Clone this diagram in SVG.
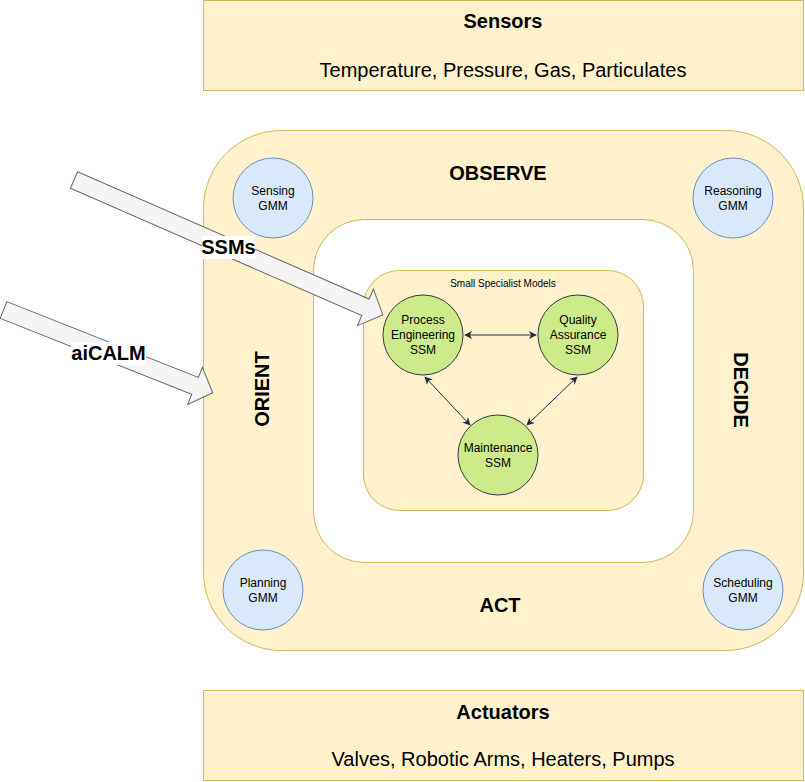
<svg xmlns="http://www.w3.org/2000/svg" width="805" height="782" viewBox="0 0 805 782">
<style>
.y{fill:#fff2cc;stroke:#d6b656;stroke-width:1}
.w{fill:#ffffff;stroke:#d6b656;stroke-width:1}
.b{fill:#dae8fc;stroke:#6c8ebf;stroke-width:1}
.g{fill:#cdeb8b;stroke:#36393d;stroke-width:1}
.bar{fill:#f5f5f5;stroke:#666666;stroke-width:1}
text{font-family:"Liberation Sans",Arial,sans-serif;fill:#000;text-anchor:middle}
.t12{font-size:12px}
.t10{font-size:10px}
.t20{font-size:20px}
.h{font-size:20px;font-weight:bold}
.con{stroke:#1c2e40;stroke-width:1;fill:none;marker-start:url(#ah);marker-end:url(#ah)}
</style>
<defs>
<marker id="ah" viewBox="0 0 10 10" refX="9" refY="5" markerWidth="8" markerHeight="8" markerUnits="userSpaceOnUse" orient="auto-start-reverse">
<path d="M0,0 L10,5 L0,10 L3,5 Z" fill="#1c2e40"/>
</marker>
</defs>
<g id="sensors">
<rect class="y" x="203.5" y="0.5" width="600" height="90"/>
<text class="h" x="503" y="28">Sensors</text>
<text class="t20" x="503" y="77">Temperature, Pressure, Gas, Particulates</text>
</g>
<g id="ooda-loop">
<rect class="y" x="203.5" y="130.5" width="600" height="520" rx="78" ry="78"/>
<rect class="w" x="313.5" y="219.5" width="380" height="343" rx="51" ry="51"/>
<text class="h" x="498" y="180">OBSERVE</text>
<text class="h" x="500" y="612">ACT</text>
<text class="h" transform="translate(262,389) rotate(-90)" x="0" y="7">ORIENT</text>
<text class="h" transform="translate(741,390) rotate(90)" x="0" y="7">DECIDE</text>
</g>
<g id="ssm-container">
<rect class="y" x="363.5" y="270.5" width="280" height="240" rx="36" ry="36"/>
<text class="t10" x="503" y="287">Small Specialist Models</text>
</g>
<g id="sensing-gmm">
<circle class="b" cx="273" cy="198" r="40"/>
<text class="t12" x="273" y="195">Sensing</text>
<text class="t12" x="273" y="210">GMM</text>
</g>
<g id="reasoning-gmm">
<circle class="b" cx="733" cy="198" r="40"/>
<text class="t12" x="733" y="195">Reasoning</text>
<text class="t12" x="733" y="210">GMM</text>
</g>
<g id="planning-gmm">
<circle class="b" cx="263" cy="590" r="40"/>
<text class="t12" x="263" y="587">Planning</text>
<text class="t12" x="263" y="602">GMM</text>
</g>
<g id="scheduling-gmm">
<circle class="b" cx="743" cy="590" r="40"/>
<text class="t12" x="743" y="587">Scheduling</text>
<text class="t12" x="743" y="602">GMM</text>
</g>
<g id="process-engineering-ssm">
<circle class="g" cx="423" cy="335" r="40"/>
<text class="t12" x="423" y="324">Process</text>
<text class="t12" x="423" y="339">Engineering</text>
<text class="t12" x="423" y="354">SSM</text>
</g>
<g id="quality-assurance-ssm">
<circle class="g" cx="578" cy="335" r="40"/>
<text class="t12" x="578" y="324">Quality</text>
<text class="t12" x="578" y="339">Assurance</text>
<text class="t12" x="578" y="354">SSM</text>
</g>
<g id="maintenance-ssm">
<circle class="g" cx="498" cy="455" r="40"/>
<text class="t12" x="498" y="452">Maintenance</text>
<text class="t12" x="498" y="467">SSM</text>
</g>
<g id="connectors">
<line class="con" x1="465" y1="335" x2="536" y2="335"/>
<line class="con" x1="425" y1="377" x2="470" y2="425"/>
<line class="con" x1="577" y1="377" x2="527" y2="425"/>
</g>
<g id="ssms-arrow">
<polygon class="bar" transform="translate(74,180) rotate(23.6)" points="0,-9 318,-9 318,-20 337,0 318,20 318,9 0,9"/>
<rect x="202" y="236" width="53" height="23" fill="#ffffff"/>
<text class="h" x="228.5" y="254">SSMs</text>
</g>
<g id="aicalm-arrow">
<polygon class="bar" transform="translate(3.5,310) rotate(21.6)" points="0,-9 206,-9 206,-20 225,0 206,20 206,9 0,9"/>
<rect x="71" y="342" width="75" height="23" fill="#ffffff"/>
<text class="h" x="108.5" y="360">aiCALM</text>
</g>
<g id="actuators">
<rect class="y" x="203.5" y="690.5" width="600" height="90"/>
<text class="h" x="503" y="719">Actuators</text>
<text class="t20" x="503" y="766">Valves, Robotic Arms, Heaters, Pumps</text>
</g>
</svg>
